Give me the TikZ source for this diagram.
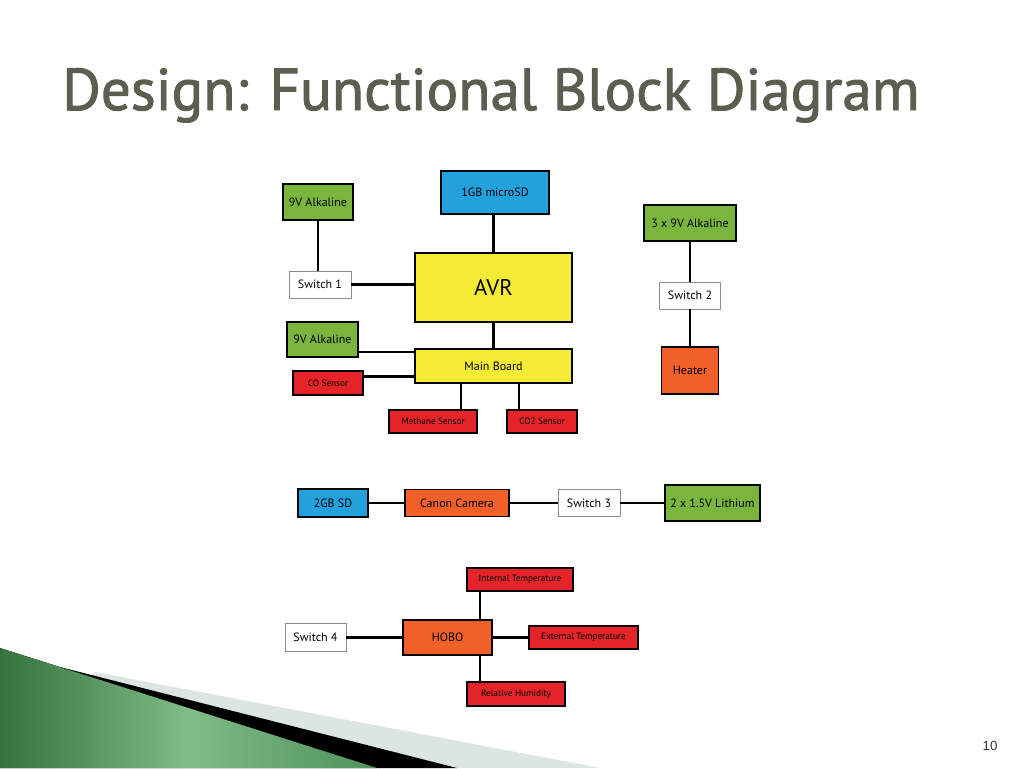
\documentclass[tikz,border=0pt]{standalone}
\usepackage{graphicx}
\usepackage{fontspec}
\setmainfont{PT Sans}
\newfontfamily\numfont{Liberation Sans}
\newfontfamily\titlefont{PT Sans}[FakeBold=1.6]
\definecolor{bgreen}{RGB}{122,181,62}
\definecolor{bblue}{RGB}{34,161,221}
\definecolor{byellow}{RGB}{244,236,52}
\definecolor{bred}{RGB}{228,36,40}
\definecolor{borange}{RGB}{240,96,40}
\definecolor{titlegray}{RGB}{92,94,80}
\definecolor{bandgray}{RGB}{221,229,225}
\definecolor{gdark}{RGB}{52,114,62}
\definecolor{gmid}{RGB}{128,188,134}
\definecolor{gright}{RGB}{78,146,92}
\begin{document}
\begin{tikzpicture}[x=0.75pt,y=-0.75pt,
  box/.style={draw=black, line width=1.4pt, inner sep=0pt, align=center, text=black},
  wbox/.style={draw=black!45, line width=0.6pt, fill=white, inner sep=0pt, text=black},
  lbl/.style={font=\fontsize{9}{11}\selectfont},
  sml/.style={font=\fontsize{6.9}{8}\selectfont},
  wire/.style={line width=2pt, black},
]
\useasboundingbox (0,0) rectangle (1024,768);
\fill[white] (0,0) rectangle (1024,768);
% bottom-left decoration
\fill[bandgray] (95,672) -- (600,768) -- (0,768) -- cycle;
\fill[black] (0,648) -- (60,667) -- (457,768) -- (0,768) -- cycle;
\shade[left color=gdark, right color=gright, middle color=gmid] (0,648) -- (377,768) -- (0,768) -- cycle;
% title
\node[anchor=base west, text=titlegray, inner sep=0pt] (title) at (62,110)
  {\resizebox{643pt}{!}{\titlefont\fontsize{40}{48}\selectfont Design: Functional Block Diagram}};
\node[anchor=base, text=black!80, inner sep=0pt, font=\numfont\fontsize{10}{12}\selectfont] (pnum) at (990,750) {10};
% top-left group
\node[box, lbl, fill=bgreen, minimum width=52.5pt, minimum height=27pt] (bat1) at (318,202) {9V Alkaline};
\node[box, lbl, fill=bblue, minimum width=81pt, minimum height=32.25pt, line width=1.8pt] (sd1) at (495,192.5) {1GB microSD};
\node[box, fill=byellow, minimum width=117.75pt, minimum height=51.75pt, font=\fontsize{17}{19}\selectfont] (avr) at (493.5,287.5) {AVR};
\node[wbox, lbl, minimum width=46.5pt, minimum height=20.25pt] (sw1) at (320,284.5) {Switch 1};
\node[box, lbl, fill=bgreen, minimum width=53.25pt, minimum height=26.25pt] (bat2) at (322.5,339.5) {9V Alkaline};
\node[box, lbl, fill=byellow, minimum width=117.75pt, minimum height=25.5pt] (mb) at (493.5,366) {Main Board};
\node[box, sml, fill=bred, minimum width=52.5pt, minimum height=18pt] (co) at (328,383) {CO Sensor};
\node[box, sml, fill=bred, minimum width=66pt, minimum height=17.25pt] (meth) at (433,421.5) {Methane Sensor};
\node[box, sml, fill=bred, minimum width=52.5pt, minimum height=17.25pt] (co2) at (542,421.5) {CO2 Sensor};
% right group
\node[box, lbl, fill=bgreen, minimum width=69pt, minimum height=27pt] (bat3) at (690,223) {3 x 9V Alkaline};
\node[wbox, lbl, minimum width=45.75pt, minimum height=20.25pt] (sw2) at (690,295.5) {Switch 2};
\node[box, lbl, fill=borange, minimum width=42.75pt, minimum height=35.25pt] (heater) at (690,370.5) {Heater};
% middle row
\node[box, lbl, fill=bblue, minimum width=52.5pt, minimum height=21pt] (sd2) at (333,503) {2GB SD};
\node[box, lbl, fill=borange, minimum width=78pt, minimum height=20.25pt] (cam) at (457,503) {Canon Camera};
\node[wbox, lbl, minimum width=46.5pt, minimum height=20.25pt] (sw3) at (589,503) {Switch 3};
\node[box, lbl, fill=bgreen, minimum width=71.25pt, minimum height=27pt] (lith) at (712.5,503) {2 x 1.5V Lithium};
% bottom group
\node[box, sml, fill=bred, minimum width=79.5pt, minimum height=17.25pt] (intT) at (520,579.5) {Internal Temperature};
\node[box, lbl, fill=borange, minimum width=66.75pt, minimum height=26.25pt] (hobo) at (447.5,637.5) {HOBO};
\node[wbox, lbl, minimum width=45.75pt, minimum height=21pt] (sw4) at (315.5,637.5) {Switch 4};
\node[box, sml, fill=bred, minimum width=81.75pt, minimum height=17.25pt] (extT) at (583.5,637.5) {External Temperature};
\node[box, sml, fill=bred, minimum width=73.5pt, minimum height=18pt] (rh) at (516,694) {Relative Humidity};
% connectors
\coordinate (xm) at (461,0);
\coordinate (xc) at (519,0);
\coordinate (xh) at (480,0);
\draw[wire] (bat1.south) -- (bat1.south |- sw1.north);
\draw[wire] (sw1.east) -- (sw1.east -| avr.west);
\draw[wire] (avr.north) -- (avr.north |- sd1.south);
\draw[wire] (avr.south) -- (mb.north);
\draw[wire] ([yshift=-3pt]mb.north west) -- ([yshift=-3pt]mb.north west -| bat2.east);
\draw[wire] ([yshift=5pt]co.east) -- ([yshift=5pt]co.east -| mb.west);
\draw[wire] (xm |- mb.south) -- (xm |- meth.north);
\draw[wire] (xc |- mb.south) -- (xc |- co2.north);
\draw[wire] (bat3.south) -- (sw2.north);
\draw[wire] (sw2.south) -- (heater.north);
\draw[wire] (sd2.east) -- (cam.west);
\draw[wire] (cam.east) -- (sw3.west);
\draw[wire] (sw3.east) -- (lith.west);
\draw[wire] (xh |- hobo.north) -- (xh |- intT.south);
\draw[wire] (xh |- hobo.south) -- (xh |- rh.north);
\draw[wire] (sw4.east) -- (hobo.west);
\draw[wire] (hobo.east) -- (extT.west);
\end{tikzpicture}
\end{document}
